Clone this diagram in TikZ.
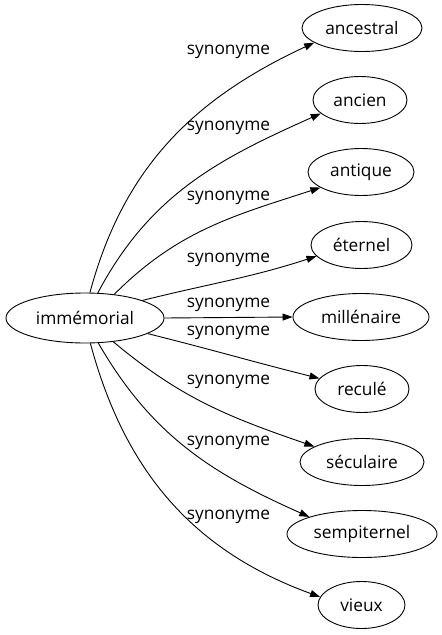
\documentclass[tikz,border=0pt]{standalone}
\usepackage{fontspec}
\setmainfont{Open Sans}
\usetikzlibrary{shapes.geometric,arrows.meta}

\tikzset{
  word/.style={ellipse, draw, line width=0.9pt, inner sep=0pt, minimum height=47, minimum width=#1},
  rel/.style={line width=0.9pt, -{Triangle[length=10pt,width=7pt]}},
  lbl/.style={inner sep=0pt}
}

\begin{document}
\begin{tikzpicture}[x=1pt, y=-1pt, font=\fontsize{17.3}{20}\selectfont]
\useasboundingbox (0,0) rectangle (442,635);
% 绘制节点
\node[word=158, minimum height=50] (imm) at (85,318) {immémorial};
\node[word=120] (anc) at (362,28) {ancestral};
\node[word=94] (anci) at (360,100) {ancien};
\node[word=106] (anti) at (361,172) {antique};
\node[word=101] (ete) at (361.5,245) {éternel};
\node[word=136] (mil) at (361,317) {millénaire};
\node[word=94] (rec) at (362,389) {reculé};
\node[word=124] (sec) at (362,462) {séculaire};
\node[word=150] (sem) at (362,534) {sempiternel};
\node[word=87] (vie) at (361.5,605) {vieux};
% 绘制连线
\draw[rel] (imm.79) to[out=75, in=205] (anc.197);
\draw[rel] (imm.63) to[out=62, in=204] (anci.199);
\draw[rel] (imm.39) to[out=45, in=198] (anti.201);
\draw[rel] (imm.17) to[out=14, in=198] (ete.194);
\draw[rel] (imm.east) -- (mil.west);
\draw[rel] (imm.-14) to[out=-14, in=166] (rec.166);
\draw[rel] (imm.-40) to[out=-40, in=161] (sec.162);
\draw[rel] (imm.-62) to[out=-60, in=156] (sem.162);
\draw[rel] (imm.-78) to[out=-75, in=160] (vie.169);
% 绘制标签
\node[lbl] (l1) at (228.5,52) {synonyme};
\node[lbl] (l2) at (228.5,128) {synonyme};
\node[lbl] (l3) at (228.5,198) {synonyme};
\node[lbl] (l4) at (228.5,260) {synonyme};
\node[lbl] (l5) at (228.5,305) {synonyme};
\node[lbl] (l6) at (228.5,333) {synonyme};
\node[lbl] (l7) at (228.5,382) {synonyme};
\node[lbl] (l8) at (228.5,443) {synonyme};
\node[lbl] (l9) at (228.5,517) {synonyme};
\end{tikzpicture}
\end{document}
